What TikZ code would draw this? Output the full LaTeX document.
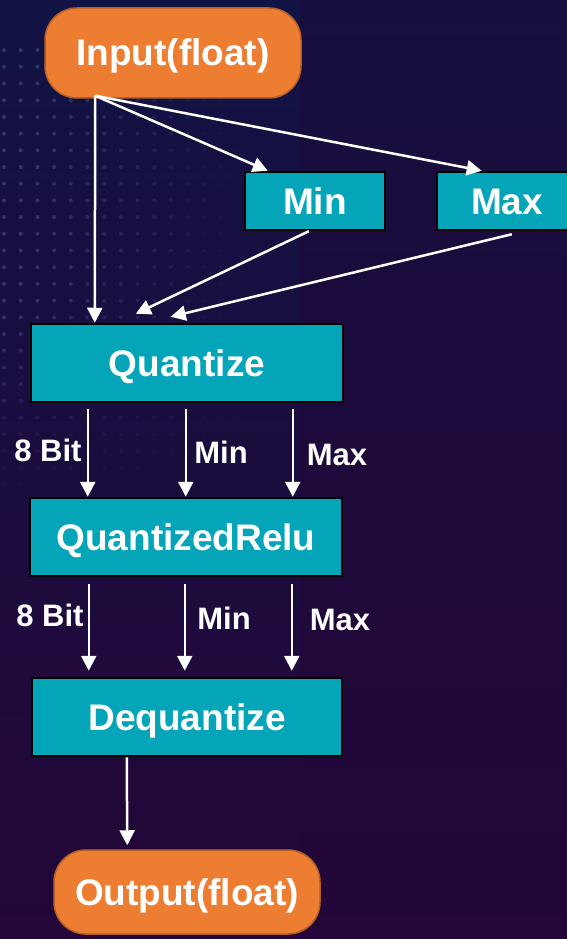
\documentclass[tikz,border=0pt]{standalone}
\usepackage{fontspec}
\setmainfont{Liberation Sans}
\usetikzlibrary{arrows.meta,calc}
\definecolor{bgtop}{RGB}{17,19,68}
\definecolor{bgbot}{RGB}{36,6,56}
\definecolor{dotc}{RGB}{80,100,175}
\definecolor{tealbox}{RGB}{4,165,185}
\definecolor{orangebox}{RGB}{237,125,49}
\definecolor{orangeedge}{RGB}{180,95,40}
\tikzset{
  opbox/.style={draw=black, line width=2.5pt, fill=tealbox, text=white,
    font=\fontsize{37}{40}\selectfont\bfseries, inner sep=0pt,
    text height=26pt, text depth=0pt},
  termbox/.style={draw=orangeedge, line width=1.5pt, fill=orangebox, text=white,
    rounded corners=32pt, font=\fontsize{37}{40}\selectfont\bfseries, inner sep=0pt,
    text height=26pt, text depth=0pt},
  flow/.style={draw=white, line width=2.5pt, -{Triangle[width=15pt,length=15pt]}},
  edgelbl/.style={text=white, font=\fontsize{31}{34}\selectfont\bfseries, inner sep=0pt}
}
\begin{document}
\begin{tikzpicture}[x=1pt,y=-1pt]
  % background
  \useasboundingbox (0,0) rectangle (567,939);
  \shade[top color=bgtop, bottom color=bgbot] (0,0) rectangle (567,939);
  \fill[bgbot, opacity=0.35] (300,0) rectangle (567,939);
  % faint dot grid on the upper left
  \foreach \i in {0,...,14}{
    \foreach \j in {3,...,29}{
      \pgfmathsetmacro{\xx}{4+16.7*\i}
      \pgfmathsetmacro{\yy}{16.7*\j}
      \pgfmathsetmacro{\op}{max(0,min(0.45,0.5*(1-\xx/250)*(1-max(0,\yy-300)/200)))}
      \fill[dotc, opacity=\op] (\xx,\yy) circle (2pt);
    }
  }

  % nodes
  \node[termbox, minimum width=256pt, minimum height=90pt] (in) at (173,53) {Input(float)};
  \node[opbox, minimum width=140pt, minimum height=58pt] (minb) at (315,201) {Min};
  \node[opbox, minimum width=140pt, minimum height=58pt] (maxb) at (507,201) {Max};
  \node[opbox, minimum width=312pt, minimum height=78pt] (q) at (187,363) {Quantize};
  \node[opbox, minimum width=312pt, minimum height=78pt] (qr) at (186,537) {QuantizedRelu};
  \node[opbox, minimum width=310pt, minimum height=78pt] (dq) at (187,717) {Dequantize};
  \node[termbox, minimum width=266pt, minimum height=84pt] (out) at (187,892) {Output(float)};

  % fan-out from the input
  \coordinate (src) at ([xshift=51pt,yshift=3pt]in.south west);
  \draw[flow] (src) -- ([xshift=65pt]q.north west);
  \draw[flow] (src) -- ([xshift=24pt]minb.north west);
  \draw[flow] (src) -- ([xshift=46pt]maxb.north west);

  % range into the quantizer
  \draw[flow] ([xshift=65pt]minb.south west) -- ([xshift=106pt,yshift=9pt]q.north west);
  \draw[flow] ([xshift=76pt,yshift=-3pt]maxb.south west) -- ([xshift=141pt,yshift=6pt]q.north west);

  % Quantize -> QuantizedRelu
  \draw[flow] ([xshift=58pt,yshift=-6pt]q.south west) -- ([xshift=59pt]qr.north west);
  \draw[flow] ([xshift=156pt,yshift=-6pt]q.south west) -- ([xshift=157pt]qr.north west);
  \draw[flow] ([xshift=263pt,yshift=-6pt]q.south west) -- ([xshift=264pt]qr.north west);
  \node[edgelbl] (l1a) at (48,450) {8 Bit};
  \node[edgelbl] (l1b) at (221,452) {Min};
  \node[edgelbl] (l1c) at (337,455) {Max};

  % QuantizedRelu -> Dequantize
  \draw[flow] ([xshift=60pt,yshift=-7pt]qr.south west) -- ([xshift=58pt,yshift=6pt]dq.north west);
  \draw[flow] ([xshift=156pt,yshift=-7pt]qr.south west) -- ([xshift=154pt,yshift=6pt]dq.north west);
  \draw[flow] ([xshift=263pt,yshift=-7pt]qr.south west) -- ([xshift=261pt,yshift=6pt]dq.north west);
  \node[edgelbl] (l2a) at (50,615) {8 Bit};
  \node[edgelbl] (l2b) at (224,618) {Min};
  \node[edgelbl] (l2c) at (340,620) {Max};

  % Dequantize -> output
  \draw[flow] ([xshift=96pt]dq.south west) -- ([xshift=74pt,yshift=4pt]out.north west);
\end{tikzpicture}
\end{document}
